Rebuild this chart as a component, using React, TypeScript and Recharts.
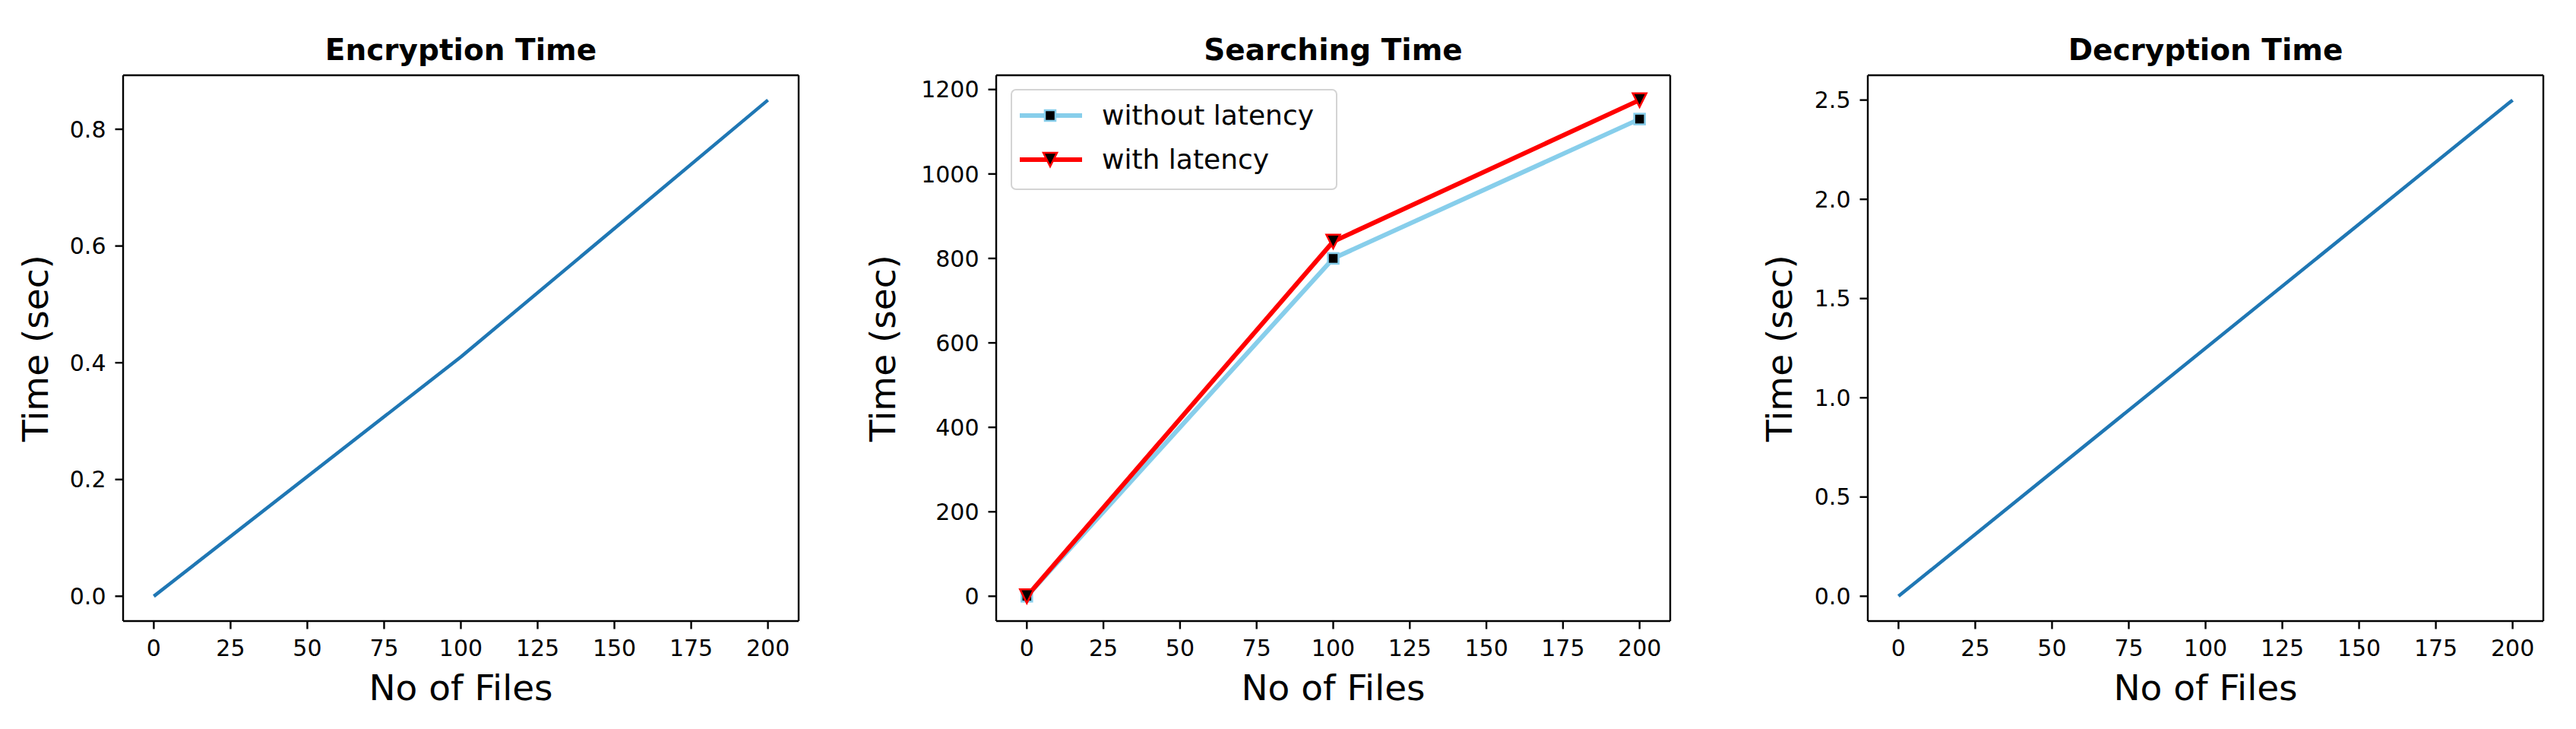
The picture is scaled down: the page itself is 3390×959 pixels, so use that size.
import React from 'react';
import { LineChart, Line, XAxis, YAxis, Legend, ReferenceLine } from 'recharts';

const FONT = '"DejaVu Sans", sans-serif';

// No of files on the x axis
const files = [0, 100, 200];
// times in seconds
const encryptionTime = [0, 0.41, 0.85];
const searchWithoutLatency = [0, 800, 1130];
const searchWithLatency = [0, 840, 1175];
const decryptionTime = [0, 1.25, 2.5];

const xTicks = [0, 25, 50, 75, 100, 125, 150, 175, 200];
const encTicks = [0, 0.2, 0.4, 0.6, 0.8];
const searchTicks = [0, 200, 400, 600, 800, 1000, 1200];
const decTicks = [0, 0.5, 1, 1.5, 2, 2.5];

const encData = files.map((n, i) => ({ n, t: encryptionTime[i] }));
const searchData = files.map((n, i) => ({ n, without: searchWithoutLatency[i], with: searchWithLatency[i] }));
const decData = files.map((n, i) => ({ n, t: decryptionTime[i] }));

// matplotlib style 5% margins
function pad(lo: number, hi: number): [number, number] {
  const d = (hi - lo) * 0.05;
  return [lo - d, hi + d];
}

const X_DOMAIN = pad(0, 200);
const AXIS = { stroke: '#000', strokeWidth: 2.4 };
const TICK = { fill: '#000', fontSize: 30, fontFamily: FONT };

function marker(kind: string, cx: number, cy: number, edge: string, key?: React.Key) {
  if (kind === 'square') {
    return <rect key={key} x={cx - 7} y={cy - 7} width={14} height={14} fill="#000" stroke={edge} strokeWidth={2.5} />;
  }
  const h = 9;
  return (
    <polygon
      key={key}
      points={`${cx - h},${cy - h} ${cx + h},${cy - h} ${cx},${cy + h}`}
      fill="#000"
      stroke={edge}
      strokeWidth={2.5}
    />
  );
}

const markerFor: Record<string, string> = { without: 'square', with: 'triangle' };
const legendOrder = ['without', 'with'];

function renderLegend(props: any) {
  const payload = [...(props.payload || [])].sort(
    (a: any, b: any) => legendOrder.indexOf(a.dataKey) - legendOrder.indexOf(b.dataKey)
  );
  return (
    <div
      style={{
        position: 'relative',
        width: 430,
        height: 133,
        boxSizing: 'border-box',
        border: '2.5px solid #d4d4d4',
        borderRadius: 7,
        background: 'rgba(255,255,255,0.8)',
        fontFamily: FONT,
      }}
    >
      {payload.map((entry: any, i: number) => (
        <div key={entry.value} style={{ position: 'absolute', left: 0, top: 13 + i * 58, width: '100%', height: 40 }}>
          <svg width={100} height={40} style={{ position: 'absolute', left: 8, top: 0 }}>
            <line x1={2} y1={20} x2={84} y2={20} stroke={entry.color} strokeWidth={6} />
            {marker(markerFor[entry.dataKey], 42, 20, entry.color)}
          </svg>
          <span style={{ position: 'absolute', left: 118, top: 0, lineHeight: '40px', fontSize: 36, color: '#000', whiteSpace: 'nowrap' }}>
            {entry.value}
          </span>
        </div>
      ))}
    </div>
  );
}

interface PanelProps {
  left: number;
  title: string;
  data: any[];
  yTicks: number[];
  yDomain: [number, number];
  yFormat: (v: number) => string;
  plotLeft: number;
  plotRight: number;
  yLabelX: number;
  children: React.ReactNode;
}

function Panel({ left, title, data, yTicks, yDomain, yFormat, plotLeft, plotRight, yLabelX, children }: PanelProps) {
  const W = 1130;
  const H = 959;
  const yAxisWidth = 120;
  const center = (plotLeft + plotRight) / 2;
  return (
    <div style={{ position: 'absolute', left, top: 0, width: W, height: H }}>
      <LineChart
        width={W}
        height={H}
        data={data}
        margin={{ top: 99, right: W - plotRight, bottom: 82, left: plotLeft - yAxisWidth }}
      >
        <XAxis
          type="number"
          dataKey="n"
          domain={X_DOMAIN}
          allowDataOverflow
          ticks={xTicks}
          interval={0}
          height={60}
          tickSize={10.5}
          tickMargin={14}
          axisLine={AXIS}
          tickLine={AXIS}
          tick={TICK}
        />
        <YAxis
          type="number"
          domain={yDomain}
          allowDataOverflow
          ticks={yTicks}
          interval={0}
          width={yAxisWidth}
          tickSize={10.5}
          tickMargin={12}
          tickFormatter={yFormat}
          axisLine={AXIS}
          tickLine={AXIS}
          tick={TICK}
        />
        {/* top and right spines */}
        <ReferenceLine y={yDomain[1]} stroke="#000" strokeWidth={2.4} ifOverflow="visible" />
        <ReferenceLine x={X_DOMAIN[1]} stroke="#000" strokeWidth={2.4} ifOverflow="visible" />
        {children}
      </LineChart>
      <div
        style={{
          position: 'absolute',
          left: center - 300,
          width: 600,
          top: 46,
          lineHeight: '40px',
          fontSize: 39,
          fontWeight: 'bold',
          fontFamily: FONT,
          textAlign: 'center',
          color: '#000',
        }}
      >
        {title}
      </div>
      <div
        style={{
          position: 'absolute',
          left: center - 300,
          width: 600,
          top: 881,
          lineHeight: '48px',
          fontSize: 47,
          fontFamily: FONT,
          textAlign: 'center',
          color: '#000',
        }}
      >
        No of Files
      </div>
      <div
        style={{
          position: 'absolute',
          left: yLabelX - 3 - 200,
          width: 400,
          top: 458 - 24,
          height: 48,
          lineHeight: '48px',
          fontSize: 47,
          fontFamily: FONT,
          textAlign: 'center',
          color: '#000',
          transform: 'rotate(-90deg)',
          whiteSpace: 'nowrap',
        }}
      >
        Time (sec)
      </div>
    </div>
  );
}

const oneDecimal = (v: number) => v.toFixed(1);
const plain = (v: number) => String(v);

export default function App() {
  return (
    <div style={{ position: 'absolute', left: 0, top: 0, width: 3390, height: 959, background: '#fff', overflow: 'hidden' }}>
      <Panel
        left={0}
        title="Encryption Time"
        data={encData}
        yTicks={encTicks}
        yDomain={pad(0, 0.85)}
        yFormat={oneDecimal}
        plotLeft={162}
        plotRight={1051}
        yLabelX={50}
      >
        <Line type="linear" dataKey="t" stroke="#1f77b4" strokeWidth={4.5} strokeLinejoin="round" dot={false} activeDot={false} isAnimationActive={false} />
      </Panel>
      <Panel
        left={1130}
        title="Searching Time"
        data={searchData}
        yTicks={searchTicks}
        yDomain={pad(0, 1175)}
        yFormat={plain}
        plotLeft={181}
        plotRight={1068}
        yLabelX={35}
      >
        <Line
          type="linear"
          dataKey="without"
          name="without latency"
          stroke="#87ceeb"
          strokeWidth={6}
          strokeLinejoin="round"
          dot={(p: any) => marker('square', p.cx, p.cy, '#87ceeb', `sq-${p.index}`)}
          activeDot={false}
          isAnimationActive={false}
        />
        <Line
          type="linear"
          dataKey="with"
          name="with latency"
          stroke="#ff0000"
          strokeWidth={6}
          strokeLinejoin="round"
          dot={(p: any) => marker('triangle', p.cx, p.cy, '#ff0000', `tr-${p.index}`)}
          activeDot={false}
          isAnimationActive={false}
        />
        <Legend
          layout="vertical"
          align="center"
          verticalAlign="middle"
          content={renderLegend}
          wrapperStyle={{ left: 200, top: 117, width: 430, height: 133 }}
        />
      </Panel>
      <Panel
        left={2260}
        title="Decryption Time"
        data={decData}
        yTicks={decTicks}
        yDomain={pad(0, 2.5)}
        yFormat={oneDecimal}
        plotLeft={198}
        plotRight={1087}
        yLabelX={85}
      >
        <Line type="linear" dataKey="t" stroke="#1f77b4" strokeWidth={4.5} strokeLinejoin="round" dot={false} activeDot={false} isAnimationActive={false} />
      </Panel>
    </div>
  );
}
